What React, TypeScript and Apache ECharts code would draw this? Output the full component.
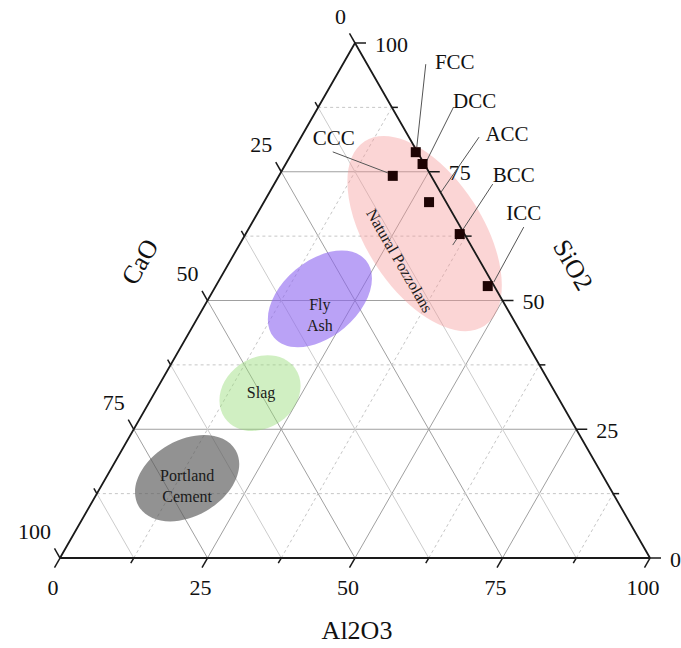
import React, { useEffect, useRef } from "react";
import * as echarts from "echarts";

// ---------- data (compositions in %) ----------
const sampleNames = ["FCC", "DCC", "CCC", "ACC", "BCC", "ICC"];
const sampleSiO2 = [78.8, 76.5, 74.2, 69.1, 62.9, 52.8];
const sampleAl2O3 = [20.9, 23.2, 19.3, 28.0, 36.3, 46.1];
const sampleCaO = [0.3, 0.3, 6.5, 2.9, 0.8, 1.1];

const regionNames = ["Natural Pozzolans", "Fly\nAsh", "Slag", "Portland\nCement"];
const regionSiO2 = [63.0, 50.3, 32.0, 15.5];
const regionAl2O3 = [30.3, 18.9, 17.9, 13.8];
const regionCaO = [6.7, 30.8, 50.1, 70.7];

const majorLevels = [25, 50, 75];
const minorLevels = [12.5, 37.5, 62.5, 87.5];
const tickLevels = [0, 12.5, 25, 37.5, 50, 62.5, 75, 87.5, 100];
const tickLabels = [0, 25, 50, 75, 100];
const axisTitles = ["SiO2", "Al2O3", "CaO"];

// ---------- layout / style ----------
const FONT = "'Liberation Serif', 'Times New Roman', serif";
// leader-line start, end and label centre relative to point (px)
const sampleLabelLayout = [
  { l1: [1, -5], l2: [10, -88], t: [39, -90] },
  { l1: [4, -3], l2: [31, -57], t: [52, -63] },
  { l1: [-5, -3], l2: [-60, -24], t: [-59, -38] },
  { l1: [12, -10], l2: [50, -65], t: [78, -68] },
  { l1: [-7, 11], l2: [33, -50], t: [54, -59] },
  { l1: [6, -4], l2: [36, -59], t: [36, -73] },
];
const regionLayout = [
  { rx: 110, ry: 58, rot: -57, fill: "rgba(245,150,150,0.4)", tdx: -25, tdy: 27, trot: -60 },
  { rx: 60, ry: 38, rot: 40, fill: "rgba(140,100,240,0.6)", tdx: 0, tdy: 16, trot: 0 },
  { rx: 43, ry: 35, rot: 35, fill: "rgba(150,220,120,0.45)", tdx: 1, tdy: -1, trot: 0 },
  { rx: 56, ry: 38, rot: 30, fill: "rgba(90,90,90,0.66)", tdx: 0, tdy: 8, trot: 0 },
];

function toXY(si: number, al: number, ca: number): number[] {
  const t = si + al + ca;
  const s = (si / t) * 100;
  const a = (al / t) * 100;
  return [a + s / 2, s];
}

const deg = Math.PI / 180;

function txt(text: string, size: number, extra: any = {}) {
  return {
    text,
    font: `${size}px ${FONT}`,
    fontFamily: FONT,
    fontSize: size,
    fill: "#111",
    align: "center",
    verticalAlign: "middle",
    textAlign: "center",
    textVerticalAlign: "middle",
    ...extra,
  };
}

export default function App() {
  const ref = useRef<HTMLDivElement>(null);

  useEffect(() => {
    if (!ref.current) return;
    const chart = echarts.init(ref.current, null, { renderer: "svg" });

    // grid segments: [x1,y1,x2,y2,kind,major]  kind 0=SiO2,1=Al2O3,2=CaO
    const gridData: number[][] = [];
    const addLevel = (v: number, major: number) => {
      const a = toXY(v, 0, 100 - v), b = toXY(v, 100 - v, 0);
      gridData.push([a[0], a[1], b[0], b[1], 0, major]);
      const c = toXY(0, v, 100 - v), d = toXY(100 - v, v, 0);
      gridData.push([c[0], c[1], d[0], d[1], 1, major]);
      const e = toXY(0, 100 - v, v), f = toXY(100 - v, 0, v);
      gridData.push([e[0], e[1], f[0], f[1], 2, major]);
    };
    majorLevels.forEach((v) => addLevel(v, 1));
    minorLevels.forEach((v) => addLevel(v, 0));

    // ticks: [x,y,axis,major] axis 0=SiO2 (right edge),1=Al2O3 (bottom),2=CaO (left)
    const tickData: number[][] = [];
    tickLevels.forEach((v) => {
      const major = v % 25 === 0 ? 1 : 0;
      const r = toXY(v, 100 - v, 0);
      tickData.push([r[0], r[1], 0, major]);
      const b = toXY(0, v, 100 - v);
      tickData.push([b[0], b[1], 1, major]);
      const l = toXY(100 - v, 0, v);
      tickData.push([l[0], l[1], 2, major]);
    });

    const labelData: number[][] = [];
    tickLabels.forEach((v) => {
      const r = toXY(v, 100 - v, 0);
      labelData.push([r[0], r[1], 0, v]);
      const b = toXY(0, v, 100 - v);
      labelData.push([b[0], b[1], 1, v]);
      const l = toXY(100 - v, 0, v);
      labelData.push([l[0], l[1], 2, v]);
    });

    const regionData = regionNames.map((_, i) => toXY(regionSiO2[i], regionAl2O3[i], regionCaO[i]));
    const sampleData = sampleNames.map((_, i) => toXY(sampleSiO2[i], sampleAl2O3[i], sampleCaO[i]));
    const edgeData = [toXY(0, 0, 100), toXY(0, 100, 0), toXY(100, 0, 0), toXY(0, 0, 100)];

    const option: any = {
      animation: false,
      textStyle: { fontFamily: FONT },
      grid: { left: 60, right: 31, top: 43, bottom: 90 },
      xAxis: { type: "value", min: 0, max: 100, show: false },
      yAxis: { type: "value", min: 0, max: 100, show: false },
      series: [
        {
          type: "custom",
          name: "grid",
          clip: false,
          z: 1,
          encode: { x: [0, 2], y: [1, 3] },
          data: gridData,
          renderItem: (params: any, api: any) => {
            const p1 = api.coord([api.value(0), api.value(1)]);
            const p2 = api.coord([api.value(2), api.value(3)]);
            const kind = api.value(4);
            const major = api.value(5);
            let style: any;
            if (major) style = { stroke: "#a0a0a0", lineWidth: 1 };
            else if (kind === 2) style = { stroke: "#cccccc", lineWidth: 1 };
            else style = { stroke: "#c6c6c6", lineWidth: 1, lineDash: [3, 3] };
            return { type: "line", shape: { x1: p1[0], y1: p1[1], x2: p2[0], y2: p2[1] }, style };
          },
        },
        {
          type: "custom",
          name: "regions",
          clip: false,
          z: 2,
          encode: { x: 0, y: 1 },
          data: regionData,
          renderItem: (params: any, api: any) => {
            const i = params.dataIndex;
            const L = regionLayout[i];
            const c = api.coord([api.value(0), api.value(1)]);
            return {
              type: "group",
              children: [
                {
                  type: "group",
                  x: c[0],
                  y: c[1],
                  rotation: L.rot * deg,
                  children: [
                    { type: "ellipse", shape: { cx: 0, cy: 0, rx: L.rx, ry: L.ry }, style: { fill: L.fill } },
                  ],
                },
                {
                  type: "text",
                  x: c[0] + L.tdx,
                  y: c[1] + L.tdy,
                  rotation: L.trot * deg,
                  style: txt(regionNames[i], 16, { lineHeight: 21, fill: "#1a1a1a" }),
                },
              ],
            };
          },
        },
        {
          type: "line",
          name: "edges",
          z: 3,
          data: edgeData,
          symbol: "none",
          lineStyle: { color: "#1a1a1a", width: 1.8 },
          silent: true,
        },
        {
          type: "custom",
          name: "ticks",
          clip: false,
          z: 3,
          encode: { x: 0, y: 1 },
          data: tickData,
          renderItem: (params: any, api: any) => {
            const p = api.coord([api.value(0), api.value(1)]);
            const axis = api.value(2);
            const len = api.value(3) ? 11 : 6;
            const dir = axis === 0 ? [1, 0] : axis === 1 ? [-0.5, 0.866] : [-0.5, -0.866];
            return {
              type: "line",
              shape: { x1: p[0], y1: p[1], x2: p[0] + dir[0] * len, y2: p[1] + dir[1] * len },
              style: { stroke: "#1a1a1a", lineWidth: 1.5 },
            };
          },
        },
        {
          type: "custom",
          name: "tickLabels",
          clip: false,
          z: 3,
          encode: { x: 0, y: 1 },
          data: labelData,
          renderItem: (params: any, api: any) => {
            const p = api.coord([api.value(0), api.value(1)]);
            const axis = api.value(2);
            const v = api.value(3);
            let dx = 0, dy = 0, align = "center";
            if (axis === 0) { dx = 20; dy = 1; align = "left"; }
            else if (axis === 1) { dx = -7; dy = 29; align = "center"; }
            else { dx = -9; dy = -27; align = "right"; }
            return {
              type: "text",
              x: p[0] + dx,
              y: p[1] + dy,
              style: txt(String(v), 22, { align, textAlign: align }),
            };
          },
        },
        {
          type: "custom",
          name: "samples",
          clip: false,
          z: 4,
          encode: { x: 0, y: 1 },
          data: sampleData,
          renderItem: (params: any, api: any) => {
            const i = params.dataIndex;
            const L = sampleLabelLayout[i];
            const p = api.coord([api.value(0), api.value(1)]);
            return {
              type: "group",
              children: [
                {
                  type: "line",
                  shape: { x1: p[0] + L.l1[0], y1: p[1] + L.l1[1], x2: p[0] + L.l2[0], y2: p[1] + L.l2[1] },
                  style: { stroke: "#555", lineWidth: 1 },
                },
                {
                  type: "rect",
                  shape: { x: p[0] - 5, y: p[1] - 5, width: 10, height: 10 },
                  style: { fill: "#1e0404" },
                },
                {
                  type: "text",
                  x: p[0] + L.t[0],
                  y: p[1] + L.t[1],
                  style: txt(sampleNames[i], 21),
                },
              ],
            };
          },
        },
      ],
      graphic: [
        { type: "text", x: 357, y: 630, style: txt(axisTitles[1], 26) },
        { type: "text", x: 140, y: 262, rotation: 60 * deg, style: txt(axisTitles[2], 26) },
        { type: "text", x: 573, y: 265, rotation: -60 * deg, style: txt(axisTitles[0], 26) },
      ],
    };

    chart.setOption(option);
    return () => chart.dispose();
  }, []);

  return (
    <div
      ref={ref}
      style={{ position: "absolute", left: 0, top: 0, width: 681, height: 648, background: "#fff" }}
    />
  );
}
